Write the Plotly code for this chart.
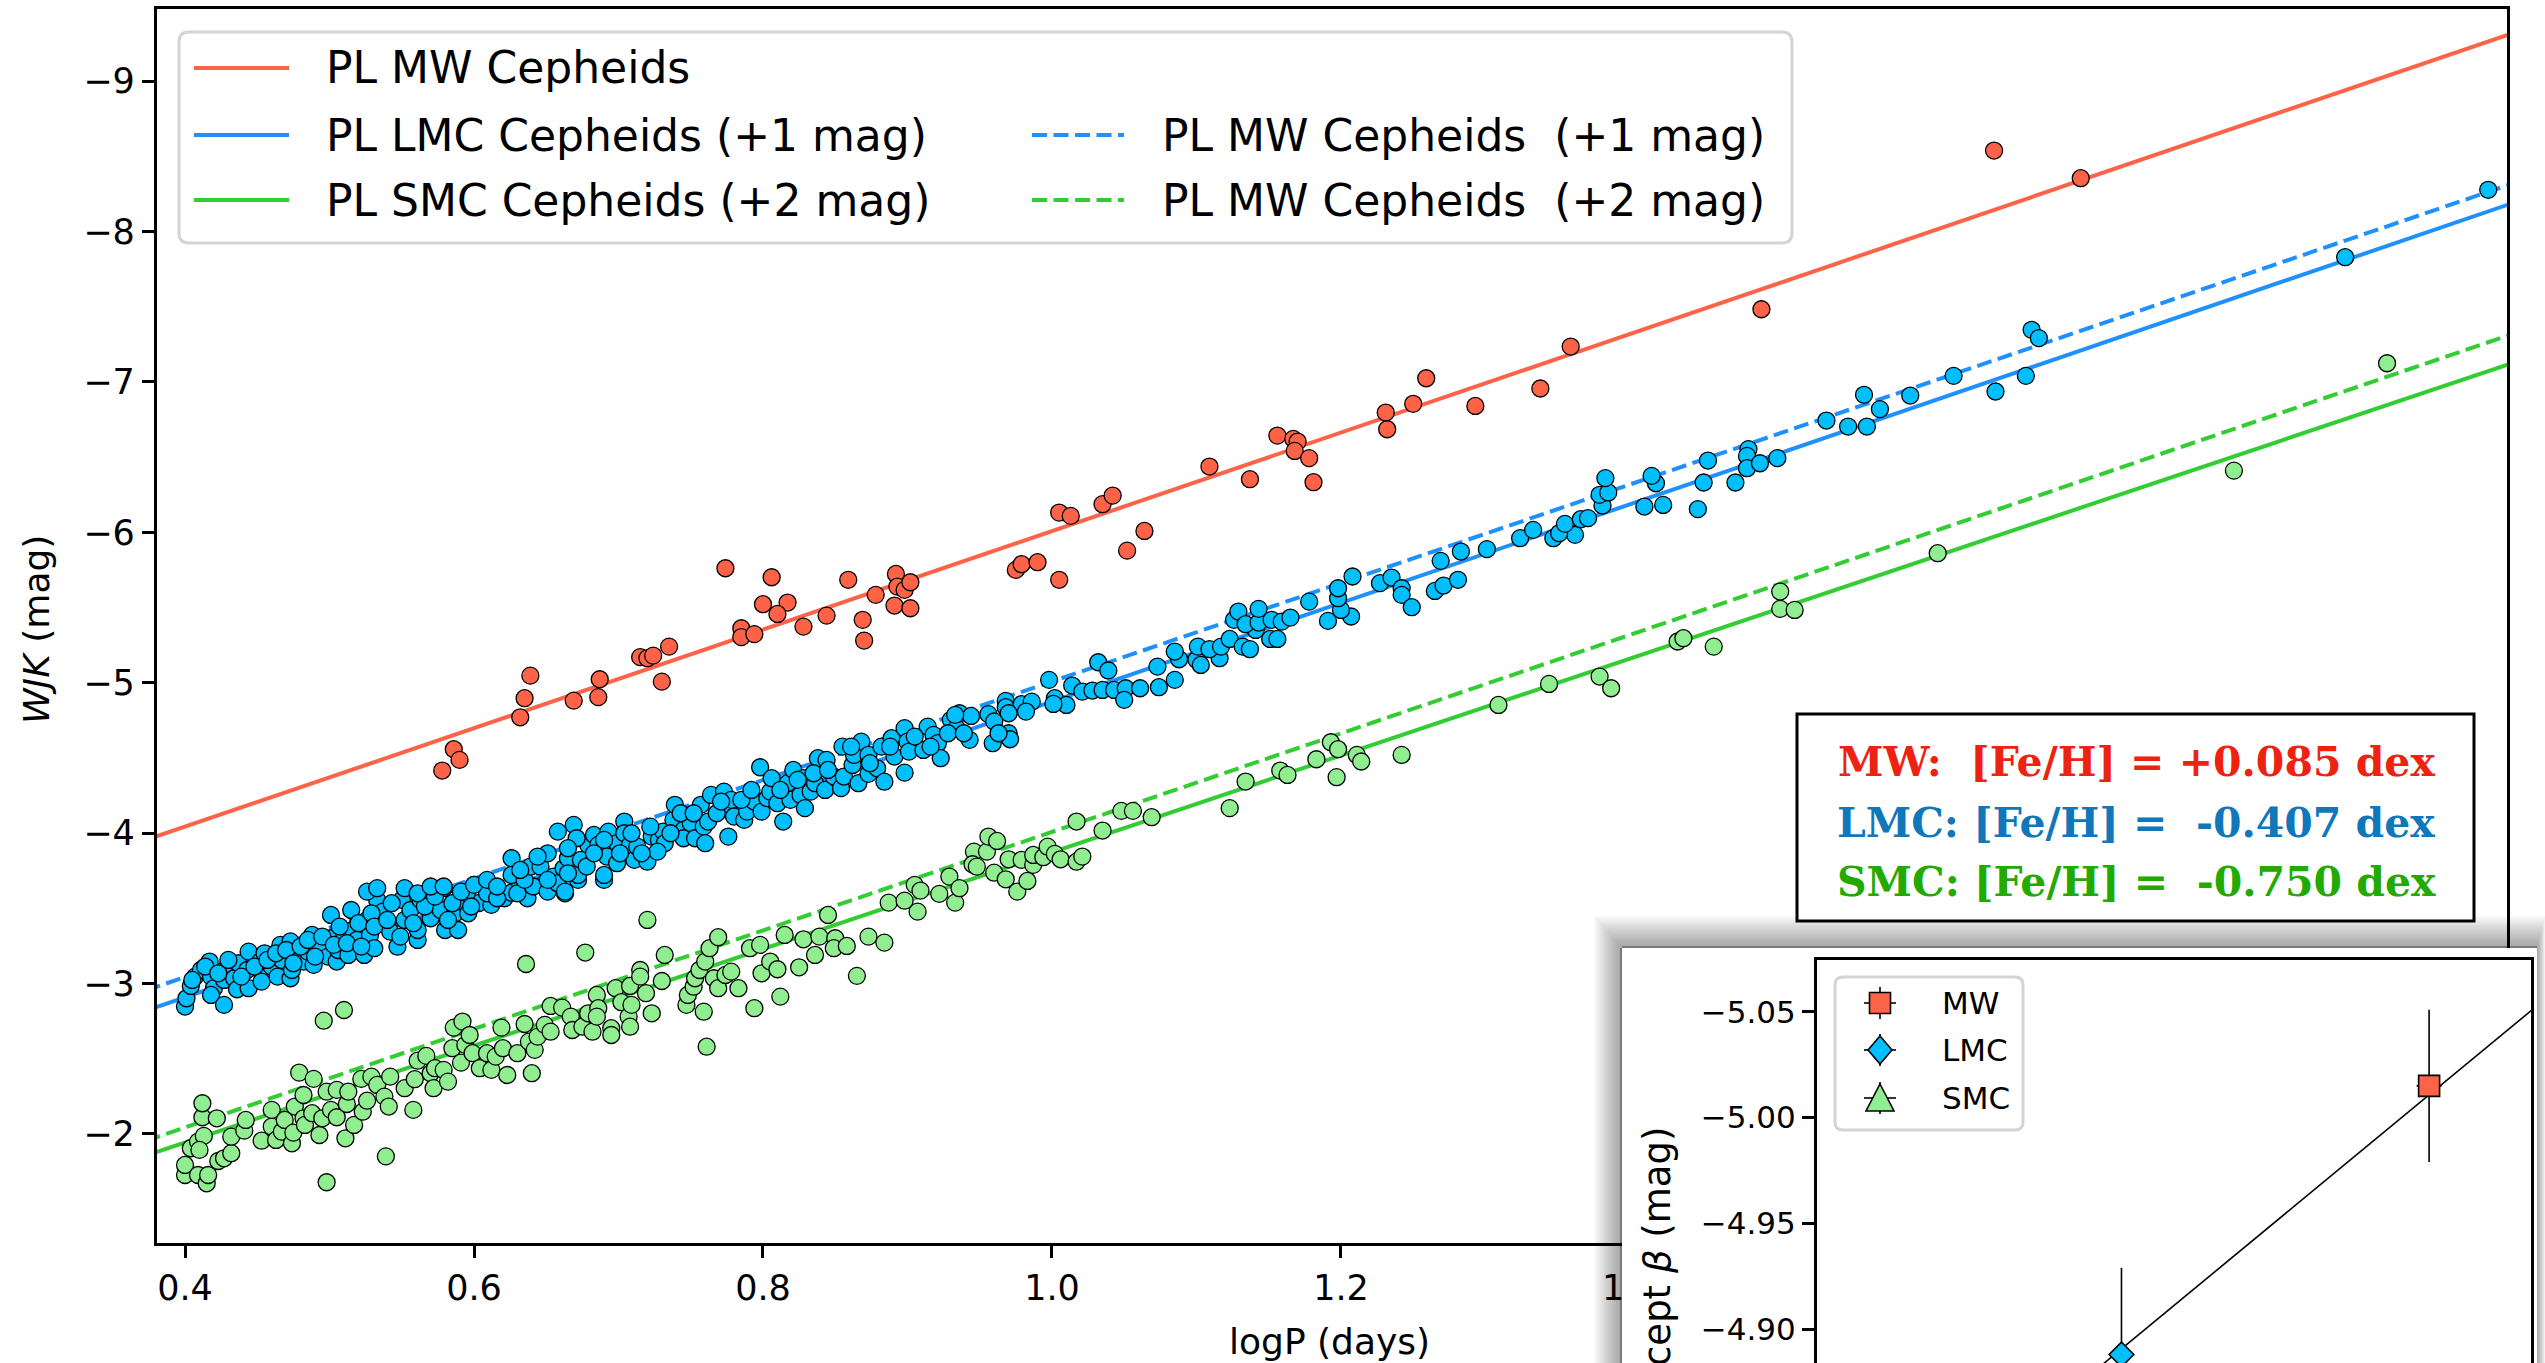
import plotly.graph_objects as go

W, H = 2545, 1363

# ---------------------------------------------------------------- data
# Milky Way Cepheids: log period (days) and Wesenheit W_JK (mag)
mw_logp = [0.578, 0.586, 0.590, 0.632, 0.635, 0.639, 0.669, 0.686, 0.687, 0.715,
           0.720, 0.724, 0.735, 0.730, 0.774, 0.806, 0.800, 0.817, 0.810, 0.785,
           0.785, 0.794, 0.828, 0.844, 0.859, 0.869, 0.870, 0.878, 0.892, 0.893,
           0.898, 0.902, 0.891, 0.902, 0.975, 0.979, 0.990, 1.005, 1.005, 1.013,
           1.035, 1.042, 1.052, 1.064, 1.109, 1.137, 1.156, 1.167, 1.170, 1.168,
           1.178, 1.181, 1.231, 1.232, 1.250, 1.259, 1.293, 1.338, 1.359, 1.491,
           1.652, 1.712]
mw_wjk = [-4.416, -4.558, -4.487, -4.770, -4.897, -5.047, -4.881, -4.904, -5.023, -5.170,
          -5.163, -5.180, -5.240, -5.007, -5.761, -5.701, -5.522, -5.533, -5.457, -5.362,
          -5.303, -5.323, -5.373, -5.446, -5.684, -5.418, -5.280, -5.584, -5.723, -5.639,
          -5.617, -5.668, -5.513, -5.495, -5.750, -5.788, -5.801, -5.684, -6.131, -6.109,
          -6.187, -6.244, -5.878, -6.009, -6.437, -6.353, -6.643, -6.621, -6.603, -6.541,
          -6.493, -6.333, -6.796, -6.685, -6.854, -7.024, -6.840, -6.956, -7.235, -7.483,
          -8.538, -8.354]

# LMC Cepheids, W_JK shifted by +1 mag
lmc_logp = [
    0.400, 0.401, 0.404, 0.407, 0.411, 0.417, 0.418, 0.420, 0.418, 0.427,
    0.427, 0.428, 0.434, 0.436, 0.437, 0.444, 0.443, 0.444, 0.452, 0.453,
    0.455, 0.460, 0.464, 0.466, 0.467, 0.473, 0.474, 0.473, 0.478, 0.482,
    0.485, 0.489, 0.488, 0.492, 0.499, 0.501, 0.501, 0.505, 0.506, 0.510,
    0.513, 0.516, 0.515, 0.519, 0.524, 0.526, 0.528, 0.531, 0.533, 0.535,
    0.537, 0.542, 0.547, 0.550, 0.552, 0.556, 0.561, 0.561, 0.563, 0.570,
    0.570, 0.579, 0.577, 0.580, 0.589, 0.587, 0.591, 0.596, 0.600, 0.603,
    0.612, 0.614, 0.621, 0.626, 0.632, 0.637, 0.648, 0.663, 0.672, 0.690,
    0.405, 0.414, 0.423, 0.430, 0.439, 0.448, 0.457, 0.463, 0.470, 0.475,
    0.480, 0.485, 0.490, 0.495, 0.503, 0.507, 0.512, 0.520, 0.522, 0.529,
    0.531, 0.540, 0.543, 0.549, 0.558, 0.566, 0.573, 0.582, 0.585, 0.595,
    0.598, 0.609, 0.616, 0.630, 0.641, 0.651, 0.658,
    0.526, 0.533, 0.552, 0.561, 0.570, 0.579, 0.591, 0.600, 0.609, 0.616,
    0.626, 0.626, 0.635, 0.639, 0.646, 0.651, 0.655, 0.658, 0.663, 0.662,
    0.665, 0.672, 0.674, 0.679, 0.658, 0.669, 0.671, 0.665, 0.683, 0.686,
    0.690, 0.692, 0.693, 0.699, 0.699, 0.704, 0.704, 0.708, 0.711, 0.713,
    0.720, 0.723, 0.728, 0.731, 0.732, 0.727, 0.738, 0.739, 0.745, 0.745,
    0.750, 0.753, 0.757, 0.759, 0.760, 0.762, 0.764, 0.773, 0.776, 0.776,
    0.778, 0.780, 0.787, 0.789, 0.794, 0.799, 0.803, 0.798, 0.805, 0.806,
    0.810, 0.814, 0.817, 0.819, 0.821, 0.826, 0.828, 0.829, 0.833, 0.836,
    0.838, 0.844, 0.843, 0.849, 0.854, 0.856, 0.855, 0.862, 0.863, 0.866,
    0.868, 0.873, 0.873, 0.879, 0.882, 0.884, 0.889, 0.891, 0.898, 0.900,
    0.901, 0.898, 0.911, 0.914, 0.918, 0.921, 0.923, 0.930, 0.934,
    0.632, 0.644, 0.651, 0.665, 0.678, 0.683, 0.690, 0.701, 0.709, 0.716,
    0.722, 0.736, 0.743, 0.752, 0.768, 0.771, 0.785, 0.792, 0.812, 0.824,
    0.835, 0.845, 0.861, 0.874, 0.888, 0.905, 0.916, 0.928,
    0.936, 0.944, 0.956, 0.968, 0.968, 0.979, 0.986, 1.002, 1.010, 0.998,
    0.982, 1.001, 0.970, 0.960, 0.970, 0.971, 0.959, 0.943, 0.939, 0.933, 0.963,
    1.014, 1.021, 1.028, 1.035, 1.043, 1.051, 1.050, 1.061, 1.074, 1.085,
    1.073, 1.088, 1.085, 1.032, 1.039, 1.100, 1.103, 1.116, 1.101, 1.109,
    1.117, 1.123, 1.132, 1.137, 1.151, 1.156, 1.141, 1.126, 1.129, 1.134,
    1.143, 1.143, 1.152, 1.159, 1.165, 1.178, 1.191, 1.207, 1.200, 1.198,
    1.198, 1.208, 1.227, 1.235, 1.242, 1.242, 1.249, 1.265, 1.271, 1.281,
    1.269, 1.283, 1.301, 1.324, 1.333, 1.362, 1.347, 1.351, 1.355, 1.366,
    1.371, 1.381, 1.379, 1.385, 1.383, 1.423, 1.410, 1.418, 1.415, 1.447,
    1.451, 1.454, 1.473,
    1.482, 1.481, 1.481, 1.490, 1.502, 1.536, 1.551, 1.564, 1.562, 1.573,
    1.594, 1.624, 1.653, 1.674, 1.678, 1.683, 1.895, 1.994]
lmc_wjk_plus1 = [
    -2.847, -2.902, -2.984, -3.046, -3.090, -3.146, -3.046, -2.969, -2.924, -2.858,
    -3.024, -3.095, -3.035, -2.962, -3.135, -2.969, -3.090, -3.212, -3.146, -3.013,
    -3.201, -3.112, -3.046, -3.257, -3.157, -3.035, -3.090, -3.280, -3.179, -3.146,
    -3.212, -3.124, -3.323, -3.257, -3.179, -3.301, -3.456, -3.146, -3.223, -3.334,
    -3.190, -3.356, -3.489, -3.290, -3.190, -3.423, -3.323, -3.235, -3.556, -3.423,
    -3.478, -3.345, -3.245, -3.556, -3.423, -3.489, -3.290, -3.356, -3.556, -3.434,
    -3.634, -3.634, -3.489, -3.356, -3.356, -3.467, -3.545, -3.467, -3.656, -3.534,
    -3.523, -3.622, -3.567, -3.604, -3.656, -3.567, -3.656, -3.600, -3.689, -3.689,
    -3.024, -3.113, -3.068, -3.157, -3.046, -3.113, -3.157, -3.201, -3.223, -3.135,
    -3.246, -3.290, -3.179, -3.312, -3.257, -3.379, -3.268, -3.401, -3.246, -3.467,
    -3.379, -3.423, -3.534, -3.312, -3.401, -3.512, -3.578, -3.423, -3.534, -3.600,
    -3.512, -3.600, -3.567, -3.600, -3.645, -3.611, -3.667,
    -3.611, -3.634, -3.634, -3.600, -3.645, -3.645, -3.611, -3.656, -3.689, -3.645,
    -3.833, -3.722, -3.689, -3.777, -3.777, -3.866, -3.711, -3.667, -3.611, -3.766,
    -3.833, -3.722, -3.822, -3.922, -4.010, -4.055, -3.966, -3.900, -3.988, -3.922,
    -3.722, -3.844, -4.010, -3.800, -3.933, -4.077, -3.999, -3.922, -3.822, -3.910,
    -3.810, -3.977, -3.955, -4.010, -3.933, -3.877, -4.088, -4.188, -4.021, -3.966,
    -4.066, -3.966, -4.188, -4.043, -3.933, -4.077, -4.254, -4.276, -4.154, -3.977,
    -4.221, -4.110, -4.088, -4.143, -4.210, -4.143, -4.232, -4.438, -4.276, -4.365,
    -4.199, -4.077, -4.332, -4.221, -4.420, -4.254, -4.365, -4.166, -4.276, -4.332,
    -4.498, -4.487, -4.287, -4.376, -4.299, -4.376, -4.575, -4.453, -4.520, -4.332,
    -4.608, -4.520, -4.394, -4.431, -4.575, -4.342, -4.631, -4.509, -4.698, -4.608,
    -4.542, -4.402, -4.553, -4.708, -4.653, -4.598, -4.498, -4.753, -4.698,
    -3.755, -3.844, -3.689, -3.733, -3.778, -3.866, -3.955, -3.866, -3.999, -3.866,
    -4.043, -3.999, -4.132, -4.132, -4.132, -4.210, -4.221, -4.287, -4.287, -4.354,
    -4.398, -4.420, -4.575, -4.465, -4.575, -4.642, -4.575, -4.664,
    -4.797, -4.779, -4.791, -4.879, -4.837, -4.857, -4.874, -4.897, -4.852, -5.019,
    -4.808, -4.859, -4.797, -4.742, -4.664, -4.624, -4.598, -4.620, -4.664, -4.786, -4.664,
    -4.981, -4.941, -4.948, -4.952, -4.952, -4.963, -4.886, -4.963, -4.970, -5.019,
    -5.107, -5.156, -5.207, -5.136, -5.081, -5.152, -5.118, -5.163, -5.240, -5.223,
    -5.240, -5.291, -5.240, -5.223, -5.291, -5.291, -5.351, -5.418, -5.473, -5.389,
    -5.400, -5.491, -5.418, -5.406, -5.433, -5.539, -5.411, -5.440, -5.484, -5.562,
    -5.628, -5.706, -5.662, -5.699, -5.628, -5.584, -5.502, -5.610, -5.646, -5.684,
    -5.810, -5.872, -5.888, -5.961, -6.016, -5.983, -5.961, -5.994, -6.056, -6.087,
    -6.094, -6.178, -6.249, -6.265, -6.360, -6.182, -6.171, -6.326, -6.375, -6.154,
    -6.331, -6.477, -6.331,
    -6.553, -6.508, -6.426, -6.459, -6.493, -6.743, -6.703, -6.703, -6.914, -6.819,
    -6.909, -7.040, -6.936, -7.040, -7.346, -7.291, -7.829, -8.277]

# SMC Cepheids, W_JK shifted by +2 mag
smc_logp = [
    0.400, 0.400, 0.404, 0.409, 0.413, 0.410, 0.409, 0.415, 0.416, 0.412,
    0.412, 0.422, 0.423, 0.427, 0.432, 0.432, 0.441, 0.442, 0.453, 0.460,
    0.460, 0.463, 0.467, 0.469, 0.474, 0.475, 0.476, 0.482, 0.483, 0.488,
    0.482, 0.479, 0.489, 0.493, 0.496, 0.498, 0.495, 0.498, 0.501, 0.505,
    0.505, 0.510, 0.511, 0.512, 0.513, 0.517, 0.522, 0.523, 0.526, 0.529,
    0.533, 0.538, 0.541, 0.539, 0.542, 0.552, 0.558, 0.559, 0.561, 0.567,
    0.570, 0.572, 0.573, 0.579, 0.582, 0.585, 0.586, 0.592, 0.591, 0.594,
    0.597, 0.599, 0.604, 0.609, 0.612, 0.615, 0.619, 0.620, 0.623, 0.630,
    0.635, 0.638, 0.640, 0.642, 0.644, 0.649, 0.653, 0.636, 0.653, 0.661,
    0.667, 0.668, 0.675, 0.677, 0.682, 0.679, 0.685, 0.686, 0.685, 0.695,
    0.695, 0.698, 0.702, 0.707, 0.708, 0.708, 0.709, 0.715, 0.715, 0.719,
    0.720, 0.723, 0.730, 0.732, 0.747, 0.748, 0.752, 0.753, 0.756, 0.759,
    0.761, 0.760, 0.763, 0.766, 0.769, 0.769, 0.774, 0.778, 0.783, 0.791,
    0.794, 0.798, 0.799, 0.805, 0.810, 0.812, 0.815, 0.825, 0.828, 0.836,
    0.839, 0.845, 0.850, 0.849, 0.858, 0.865, 0.873, 0.884, 0.887, 0.898,
    0.907, 0.905, 0.909, 0.922, 0.933,
    0.929, 0.936, 0.946, 0.945, 0.948, 0.955, 0.956, 0.962, 0.960, 0.968,
    0.976, 0.983, 0.970, 0.979, 0.987, 0.987, 0.994, 0.997, 1.002, 1.006,
    1.017, 1.021, 1.017, 1.035, 1.048, 1.056, 1.069, 1.123, 1.134, 1.158,
    1.163, 1.183, 1.193, 1.198, 1.197, 1.211, 1.214, 1.242, 1.309, 1.344,
    1.379, 1.387, 1.433, 1.437, 1.458, 1.504, 1.504, 1.514, 1.613, 1.818,
    1.924]
smc_wjk_plus2 = [
    -1.727, -1.794, -1.905, -1.949, -1.987, -1.894, -1.727, -1.672, -1.727, -2.111,
    -2.204, -2.104, -1.820, -1.838, -1.872, -1.982, -2.022, -2.093, -1.955, -2.049,
    -2.160, -1.960, -2.015, -2.093, -1.938, -2.009, -2.182, -2.104, -2.060, -2.138,
    -2.259, -2.408, -2.366, -1.993, -2.753, -1.679, -2.104, -2.281, -2.160, -2.111,
    -2.293, -2.824, -1.971, -2.199, -2.281, -2.060, -2.366, -2.148, -2.221, -2.381,
    -2.326, -2.248, -2.182, -1.851, -2.381, -2.304, -2.160, -2.364, -2.487, -2.519,
    -2.404, -2.304, -2.437, -2.426, -2.348, -2.570, -2.707, -2.747, -2.474, -2.592,
    -2.658, -2.537, -2.437, -2.537, -2.426, -2.514, -2.707, -2.570, -2.392, -2.537,
    -2.731, -2.614, -2.404, -2.559, -2.647, -2.725, -2.680, -3.130, -2.851, -2.840,
    -2.780, -2.691, -2.713, -3.206, -2.680, -2.802, -2.924, -2.836, -2.780, -2.703,
    -2.658, -2.969, -2.876, -2.780, -2.713, -2.984, -2.858, -3.090, -3.046, -2.936,
    -3.423, -2.802, -3.017, -3.190, -2.858, -2.924, -2.979, -3.035, -3.090, -2.813,
    -2.580, -3.146, -3.235, -3.035, -2.969, -3.308, -3.057, -3.079, -2.969, -3.235,
    -2.836, -3.257, -3.068, -3.146, -3.095, -2.913, -3.323, -3.108, -3.294, -3.190,
    -3.312, -3.456, -3.301, -3.235, -3.250, -3.051, -3.312, -3.272, -3.538, -3.551,
    -3.478, -3.656, -3.618, -3.596, -3.538,
    -3.711, -3.634, -3.877, -3.793, -3.777, -3.877, -3.977, -3.948, -3.737, -3.693,
    -3.611, -3.682, -3.826, -3.822, -3.789, -3.855, -3.840, -3.910, -3.862, -3.826,
    -3.810, -3.844, -4.077, -4.017, -4.148, -4.148, -4.106, -4.166, -4.343, -4.416,
    -4.387, -4.491, -4.604, -4.558, -4.372, -4.520, -4.476, -4.520, -4.852, -4.992,
    -5.041, -4.963, -5.274, -5.296, -5.240, -5.606, -5.491, -5.484, -5.861, -6.410,
    -7.124]

# PL relations W = a + b * logP (unshifted)
mw_a, mw_b = -2.733, -3.275
lmc_a, lmc_b = -2.597, -3.278
smc_a, smc_b = -2.656, -3.217
lmc_shift, smc_shift = 1.0, 2.0

# Metallicities and PL intercepts per galaxy
galaxies = ["MW", "LMC", "SMC"]
feh = [0.085, -0.407, -0.750]
feh_err = [0.020, 0.020, 0.020]
beta = [-5.015, -4.888, -4.800]
beta_err = [0.036, 0.041, 0.050]
# intercept vs metallicity fit: beta = beta0 + gamma * [Fe/H]
beta0, gamma = -4.990, -0.244

# main axis ranges and ticks
x_range = [0.3806, 2.007]
y_range = [-1.275, -9.479]
x_ticks = [0.4, 0.6, 0.8, 1.0, 1.2, 1.4, 1.6, 1.8, 2.0]
y_ticks = [-9, -8, -7, -6, -5, -4, -3, -2]
inset_x_range = [-0.894, 0.248]
inset_y_range = [-4.884, -5.0745]
inset_y_ticks = [-5.05, -5.00, -4.95, -4.90]

# ---------------------------------------------------------------- style
RED_LINE, BLUE_LINE, GREEN_LINE = "#FF6347", "#1E90FF", "#32CD32"
RED_PT, BLUE_PT, GREEN_PT = "#FF6347", "#00BFFF", "#90EE90"
FONT = "DejaVu Sans"


def fx(px):
    return px / W


def fy(py):
    return 1 - py / H


def minus(v, fmt):
    s = fmt.format(v)
    return s.replace("-", "\u2212")


fig = go.Figure()

# ---------------------------------------------------------------- PL lines
xl = [x_range[0] - 0.05, x_range[1] + 0.05]
line_defs = [
    (mw_a, mw_b, 0.0, RED_LINE, "solid", "PL MW Cepheids"),
    (lmc_a, lmc_b, lmc_shift, BLUE_LINE, "solid", "PL LMC Cepheids (+1 mag)"),
    (smc_a, smc_b, smc_shift, GREEN_LINE, "solid", "PL SMC Cepheids (+2 mag)"),
    (mw_a, mw_b, lmc_shift, BLUE_LINE, "15px,6.5px", "PL MW Cepheids (+1 mag)"),
    (mw_a, mw_b, smc_shift, GREEN_LINE, "15px,6.5px", "PL MW Cepheids (+2 mag)"),
]
for a, b, off, col, dash, name in line_defs:
    fig.add_trace(go.Scatter(
        x=xl, y=[a + off + b * v for v in xl], mode="lines", name=name,
        line=dict(color=col, width=4, dash=dash), showlegend=False,
        hoverinfo="skip", xaxis="x", yaxis="y"))

# ---------------------------------------------------------------- points
for xs, ys, col, name in [(mw_logp, mw_wjk, RED_PT, "MW"),
                          (lmc_logp, lmc_wjk_plus1, BLUE_PT, "LMC"),
                          (smc_logp, smc_wjk_plus2, GREEN_PT, "SMC")]:
    fig.add_trace(go.Scatter(
        x=xs, y=ys, mode="markers", name=name, showlegend=False,
        marker=dict(size=17, color=col, line=dict(color="black", width=1.3)),
        xaxis="x", yaxis="y"))

# ---------------------------------------------------------------- inset
inset_sym = ["square", "diamond", "triangle-up"]
inset_size = [21, 19, 24]
inset_col = [RED_PT, BLUE_PT, GREEN_PT]
xf = [inset_x_range[0] - 0.1, inset_x_range[1] + 0.1]
fig.add_trace(go.Scatter(
    x=xf, y=[beta0 + gamma * v for v in xf], mode="lines",
    line=dict(color="black", width=1.6), showlegend=False,
    hoverinfo="skip", xaxis="x3", yaxis="y3"))
for i, g in enumerate(galaxies):
    fig.add_trace(go.Scatter(
        x=[feh[i]], y=[beta[i]], mode="markers", name=g, showlegend=False,
        error_y=dict(type="data", array=[beta_err[i]], color="black",
                     thickness=1.6, width=0),
        error_x=dict(type="data", array=[feh_err[i]], color="black",
                     thickness=1.6, width=0),
        marker=dict(symbol=inset_sym[i], size=inset_size[i], color=inset_col[i],
                    line=dict(color="black", width=1.6)),
        xaxis="x3", yaxis="y3"))

# ---------------------------------------------------------------- shapes
shapes = []

# paper panel behind the inset (soft shadow, then white sheet)
PX0, PY0, PX1 = 1622, 948, 2537
for k in range(1, 15):
    shapes.append(dict(type="rect", xref="x2", yref="y2", layer="below",
                       x0=PX0 - 2.0 * k, y0=PY0 - 2.3 * k,
                       x1=PX1 + 0.6 * k, y1=H + 20,
                       fillcolor="rgba(0,0,0,0.026)", line=dict(width=0)))
shapes.append(dict(type="rect", xref="x2", yref="y2", layer="below",
                   x0=PX0, y0=PY0, x1=PX1, y1=H + 20,
                   fillcolor="white", line=dict(width=0)))
shapes.append(dict(type="line", xref="x2", yref="y2", layer="below",
                   x0=PX0, y0=PY0 - 1, x1=PX1, y1=PY0 - 1,
                   line=dict(color="rgba(0,0,0,0.28)", width=2)))
shapes.append(dict(type="line", xref="x2", yref="y2", layer="below",
                   x0=PX0 - 1, y0=PY0, x1=PX0 - 1, y1=H + 20,
                   line=dict(color="rgba(0,0,0,0.28)", width=2)))


def rounded_box(x0, y0, x1, y1, r):
    pts = (f"M {fx(x0 + r)},{fy(y0)} L {fx(x1 - r)},{fy(y0)} "
           f"Q {fx(x1)},{fy(y0)} {fx(x1)},{fy(y0 + r)} "
           f"L {fx(x1)},{fy(y1 - r)} Q {fx(x1)},{fy(y1)} {fx(x1 - r)},{fy(y1)} "
           f"L {fx(x0 + r)},{fy(y1)} Q {fx(x0)},{fy(y1)} {fx(x0)},{fy(y1 - r)} "
           f"L {fx(x0)},{fy(y0 + r)} Q {fx(x0)},{fy(y0)} {fx(x0 + r)},{fy(y0)} Z")
    return pts


# main legend frame
shapes.append(dict(type="path", xref="paper", yref="paper", layer="above",
                   path=rounded_box(179, 32, 1792, 243, 10),
                   fillcolor="rgba(255,255,255,0.85)",
                   line=dict(color="#d4d4d4", width=3)))

annotations = []
legend_rows = [
    (68, 194, 289, RED_LINE, "solid", "PL MW Cepheids", 324),
    (135, 194, 289, BLUE_LINE, "solid", "PL LMC Cepheids (+1 mag)", 324),
    (200, 194, 289, GREEN_LINE, "solid", "PL SMC Cepheids (+2 mag)", 324),
    (135, 1032, 1124, BLUE_LINE, "15px,6.5px", "PL MW Cepheids\u00a0 (+1 mag)", 1160),
    (200, 1032, 1124, GREEN_LINE, "15px,6.5px", "PL MW Cepheids\u00a0 (+2 mag)", 1160),
]
for yy, x0, x1, col, dash, label, tx in legend_rows:
    shapes.append(dict(type="line", xref="paper", yref="paper", layer="above",
                       x0=fx(x0), x1=fx(x1), y0=fy(yy), y1=fy(yy),
                       line=dict(color=col, width=4, dash=dash)))
    annotations.append(dict(x=fx(tx), y=fy(yy), xref="paper", yref="paper",
                            text=label, showarrow=False, xanchor="left",
                            yanchor="middle",
                            font=dict(family=FONT, size=44, color="black")))

# metallicity box
shapes.append(dict(type="rect", xref="paper", yref="paper", layer="above",
                   x0=fx(1797), x1=fx(2474), y0=fy(714), y1=fy(921),
                   fillcolor="white", line=dict(color="black", width=3)))
feh_lines = [
    ("MW:\u00a0 [Fe/H] = +{:.3f} dex".format(feh[0]), "#EE2211", 762),
    ("LMC: [Fe/H] = \u00a0{:.3f} dex".format(feh[1]), "#1177BB", 823),
    ("SMC: [Fe/H] = \u00a0{:.3f} dex".format(feh[2]), "#22AA00", 882),
]
for txt, col, yy in feh_lines:
    annotations.append(dict(x=fx(2136), y=fy(yy), xref="paper", yref="paper",
                            text="<b>" + txt + "</b>", showarrow=False,
                            xanchor="center", yanchor="middle",
                            font=dict(family="DejaVu Serif", size=41, color=col)))

# inset legend
shapes.append(dict(type="path", xref="paper", yref="paper", layer="above",
                   path=rounded_box(1835, 977, 2023, 1130, 8),
                   fillcolor="rgba(255,255,255,0.85)",
                   line=dict(color="#d4d4d4", width=3)))
LX = 1880
leg_y = [1003, 1050, 1098]
for i, yy in enumerate(leg_y):
    shapes.append(dict(type="line", xref="paper", yref="paper", layer="above",
                       x0=fx(LX), x1=fx(LX), y0=fy(yy - 16), y1=fy(yy + 16),
                       line=dict(color="black", width=1.6)))
    shapes.append(dict(type="line", xref="paper", yref="paper", layer="above",
                       x0=fx(LX - 16), x1=fx(LX + 16), y0=fy(yy), y1=fy(yy),
                       line=dict(color="black", width=1.6)))
    if i == 0:
        p = (f"M {fx(LX-10.5)},{fy(yy-10.5)} L {fx(LX+10.5)},{fy(yy-10.5)} "
             f"L {fx(LX+10.5)},{fy(yy+10.5)} L {fx(LX-10.5)},{fy(yy+10.5)} Z")
    elif i == 1:
        p = (f"M {fx(LX)},{fy(yy-14)} L {fx(LX+12)},{fy(yy)} "
             f"L {fx(LX)},{fy(yy+14)} L {fx(LX-12)},{fy(yy)} Z")
    else:
        p = (f"M {fx(LX)},{fy(yy-14)} L {fx(LX+14)},{fy(yy+13)} "
             f"L {fx(LX-14)},{fy(yy+13)} Z")
    shapes.append(dict(type="path", xref="paper", yref="paper", layer="above",
                       path=p, fillcolor=inset_col[i],
                       line=dict(color="black", width=1.6)))
    annotations.append(dict(x=fx(1940), y=fy(yy), xref="paper", yref="paper",
                            text=galaxies[i], showarrow=False, xanchor="left",
                            yanchor="middle",
                            font=dict(family=FONT, size=31, color="black")))

# axis titles
annotations.append(dict(x=fx(1330), y=fy(1341), xref="paper", yref="paper",
                        text="logP (days)", showarrow=False, xanchor="center",
                        yanchor="middle", font=dict(family=FONT, size=36, color="black")))
annotations.append(dict(x=fx(36), y=fy(630), xref="paper", yref="paper",
                        text="<i>WJK</i> (mag)", showarrow=False, textangle=-90,
                        xanchor="center", yanchor="middle",
                        font=dict(family=FONT, size=36, color="black")))
annotations.append(dict(x=fx(1657), y=fy(1290), xref="paper", yref="paper",
                        text="Intercept <i>\u03b2</i> (mag)", showarrow=False,
                        textangle=-90, xanchor="center", yanchor="middle",
                        font=dict(family=FONT, size=37, color="black")))

# ---------------------------------------------------------------- axes
axis_common = dict(showgrid=False, zeroline=False, showline=True,
                   linecolor="black", linewidth=3.3, ticks="outside",
                   ticklen=12, tickwidth=3, tickcolor="black",
                   tickfont=dict(family=FONT, size=35, color="black"))

fig.update_layout(
    width=W, height=H, template="none",
    margin=dict(l=0, r=0, t=0, b=0, pad=0),
    paper_bgcolor="white", plot_bgcolor="rgba(0,0,0,0)",
    showlegend=False,
    xaxis=dict(domain=[fx(157), fx(2507)], range=x_range, anchor="y",
               tickvals=x_ticks, ticktext=["{:.1f}".format(v) for v in x_ticks],
               mirror=True, **axis_common),
    yaxis=dict(domain=[fy(1243), fy(9)], range=y_range, anchor="x",
               tickvals=y_ticks, ticktext=[minus(v, "{:d}") for v in y_ticks],
               mirror=True, **axis_common),
    xaxis2=dict(domain=[fx(1560), 1.0], range=[1560, W], visible=False,
                anchor="y2", fixedrange=True),
    yaxis2=dict(domain=[0.0, fy(900)], range=[H, 900], visible=False,
                anchor="x2", fixedrange=True),
    xaxis3=dict(domain=[fx(1817), fx(2531)], range=inset_x_range, anchor="y3",
                side="top", showline=True, linecolor="black", linewidth=3,
                showgrid=False, zeroline=False, ticks="", showticklabels=False),
    yaxis3=dict(domain=[0.0, fy(960)], range=inset_y_range, anchor="x3",
                tickvals=inset_y_ticks,
                ticktext=[minus(v, "{:.2f}") for v in inset_y_ticks],
                showgrid=False, zeroline=False, showline=True, mirror=True,
                linecolor="black", linewidth=3, ticks="outside", ticklen=12,
                tickwidth=3, tickcolor="black",
                tickfont=dict(family=FONT, size=31, color="black")),
    shapes=shapes,
    annotations=annotations,
)

fig.write_html("out.html", config={"displayModeBar": False})
